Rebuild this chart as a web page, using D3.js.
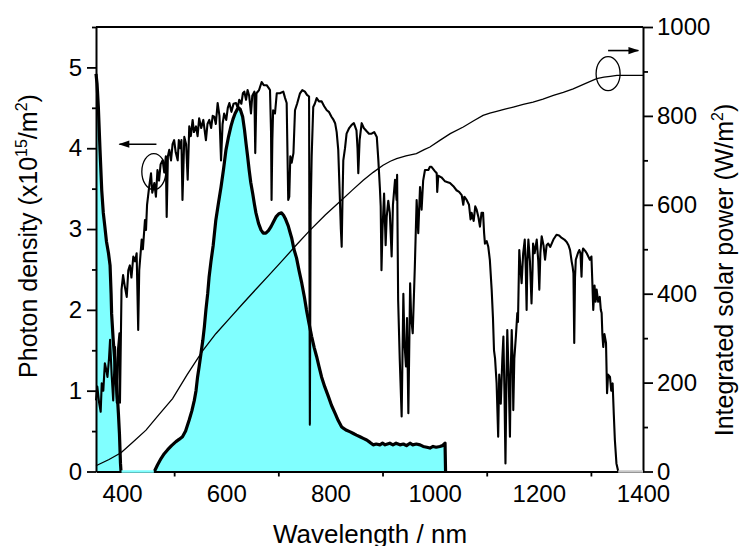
<!DOCTYPE html>
<html>
<head>
<meta charset="utf-8">
<script src="https://cdn.jsdelivr.net/npm/d3@7/dist/d3.min.js"></script>
<style>
  body { margin: 0; background: #fff; }
  svg { font-family: "Liberation Sans", Arial, sans-serif; }
</style>
</head>
<body>
<div id="chart"></div>
<script>
const width = 743;
const height = 546;
const margin = { top: 27, right: 100, bottom: 74.5, left: 96 };

// AM1.5 photon density, [wavelength nm, x10^15 /m^2]
const solarSpectrum = [
  [350, 0.88], [352.5, 1.05], [356, 0.85], [359, 0.74], [361, 1.09], [364, 1.0], [367, 1.34], [370, 1.25],
  [372, 1.17], [375, 1.4], [377, 1.63], [380, 1.2], [383, 0.88], [386.5, 1.54], [388, 1.1], [390, 0.85],
  [392, 1.5], [395, 1.71], [396, 0.85], [399, 2.25], [402, 2.43], [405, 2.3], [409, 2.16], [412, 2.49],
  [415, 2.55], [418, 2.4], [421.6, 2.66], [425, 2.6], [428, 2.7], [431, 1.75], [433, 2.49], [437.7, 2.87],
  [440, 2.75], [444, 3.11], [446, 2.99], [448, 3.3], [452, 3.52], [455.6, 3.69], [458, 3.45], [462, 3.57],
  [465, 3.4], [468, 3.73], [471, 3.6], [474, 3.8], [478, 3.85], [481, 3.7], [484, 3.9], [485.7, 3.15],
  [488, 3.9], [490.7, 3.98], [494, 3.85], [497, 4.05], [500, 4.1], [503, 3.95], [506.8, 3.85], [509, 4.1],
  [512, 4.0], [514, 4.1], [516, 3.36], [519.5, 4.14], [523, 4.05], [526, 3.61], [529, 4.27], [532, 4.15],
  [535.5, 4.35], [538, 4.2], [542, 4.27], [545, 4.15], [548, 4.37], [552, 4.25], [556, 4.35], [559, 4.2],
  [561, 4.1], [564, 4.3], [567.5, 4.35], [571, 4.25], [574, 4.4], [577, 4.39], [580, 4.3], [583.5, 4.56],
  [587, 4.4], [590, 3.85], [593, 4.3], [596, 4.43], [600, 4.35], [603, 4.5], [606, 4.56], [610, 4.45],
  [614, 4.55], [618.7, 4.56], [622, 4.5], [625, 4.6], [629, 4.55], [632, 4.68], [634.7, 4.7], [638, 4.6],
  [641, 4.72], [644, 4.65], [647.5, 4.43], [650, 4.65], [654, 4.7], [655.7, 3.94], [658, 4.68], [663, 4.72],
  [668, 4.82], [672, 4.78], [677.6, 4.78], [682, 4.74], [684, 4.72], [686, 4.2], [687, 3.36], [688.5, 4.1],
  [690, 4.47], [693.6, 4.43], [697, 4.68], [703, 4.68], [709.5, 4.7], [713, 4.62], [716, 4.56], [719, 3.36],
  [721, 3.4], [723, 3.9], [725.6, 3.82], [729, 3.94], [732, 4.47], [736, 4.55], [741.6, 4.68], [746, 4.72],
  [751, 4.7], [755, 4.66], [759, 4.64], [760.5, 0.58], [762, 3.2], [764, 3.9], [767, 4.51], [770, 4.55],
  [773.6, 4.62], [778, 4.58], [783, 4.58], [788, 4.52], [793, 4.47], [797, 4.45], [802, 4.39], [806, 4.35],
  [809, 4.31], [812, 4.2], [815, 3.98], [818, 3.4], [820, 3.0], [821.6, 2.78], [823, 3.3], [824.7, 3.85],
  [828, 4.0], [831, 4.18], [836, 4.25], [840.8, 4.29], [845, 4.31], [850, 4.22], [852, 4.0], [853.5, 3.69],
  [856, 4.1], [860, 4.31], [864, 4.25], [869.6, 4.21], [874, 4.18], [879, 4.18], [884, 4.2], [889, 4.14],
  [892, 3.85], [895, 3.5], [896.5, 3.28], [898, 2.49], [900, 3.0], [903, 3.44], [906, 2.8], [908, 3.15],
  [911, 3.35], [914, 3.2], [917.5, 2.66], [920, 3.3], [924, 3.61], [927, 3.36], [928, 3.67], [930, 2.12],
  [933, 1.4], [936.7, 0.68], [940, 2.2], [942, 1.6], [945, 1.3], [947, 1.9], [949.6, 0.72], [953, 2.33],
  [955, 1.9], [958, 1.71], [962, 2.53], [965.5, 3.36], [968.6, 2.95], [972, 3.52], [975, 3.24], [978, 3.6],
  [981.5, 3.73], [988, 3.73], [991, 3.77], [994, 3.77], [1000, 3.72], [1004, 3.69], [1005, 3.46], [1007, 3.66],
  [1013, 3.64], [1020, 3.59], [1025, 3.58], [1029.5, 3.57], [1036, 3.53], [1042, 3.48], [1047, 3.46], [1052, 3.42],
  [1055, 3.3], [1057, 3.4], [1061.5, 3.36], [1066, 3.3], [1069, 3.12], [1071, 3.2], [1075, 3.1], [1078, 3.28],
  [1080.7, 3.24], [1084, 3.15], [1087, 3.03], [1090, 3.2], [1093, 3.2], [1095, 2.95], [1096.6, 2.82], [1100, 2.85],
  [1103, 2.78], [1106, 2.62], [1109.5, 2.25], [1112, 1.9], [1114, 1.5], [1116, 1.4], [1119, 1.09], [1122, 0.43],
  [1124, 1.2], [1127, 0.84], [1130, 1.4], [1132, 1.67], [1134, 1.0], [1136, 0.1], [1138, 1.2], [1139.5, 1.75],
  [1142, 1.2], [1144.6, 0.43], [1146, 1.2], [1148, 1.75], [1150, 1.3], [1151, 0.76], [1153, 1.4], [1156, 1.67],
  [1158.7, 1.96], [1160, 1.85], [1162.5, 2.74], [1165, 2.5], [1167, 2.33], [1170, 2.7], [1173, 2.87], [1175, 2.5],
  [1176.6, 2.0], [1178, 2.6], [1180, 2.87], [1183, 2.6], [1186, 2.08], [1188, 2.5], [1189, 2.82], [1192, 2.7],
  [1196, 2.87], [1199, 2.6], [1201, 2.25], [1203, 2.7], [1205.5, 2.91], [1209, 2.8], [1212, 2.62], [1215, 2.8],
  [1218, 2.82], [1222, 2.78], [1228, 2.87], [1234, 2.93], [1239, 2.92], [1244, 2.89], [1249, 2.87], [1253.5, 2.84],
  [1257, 2.8], [1260, 2.74], [1263, 2.6], [1265, 2.53], [1266.5, 2.45], [1268, 1.59], [1269.5, 2.4], [1271, 2.62],
  [1275, 2.7], [1277.7, 2.74], [1280, 2.7], [1282, 2.41], [1283.5, 2.7], [1285, 2.76], [1289, 2.73], [1292, 2.7],
  [1295, 2.66], [1298, 2.62], [1301, 2.66], [1303, 2.3], [1304.5, 2.0], [1307, 2.3], [1309, 2.1], [1311, 2.25],
  [1314, 2.1], [1317, 2.16], [1319, 2.0], [1320.6, 1.96], [1322, 1.7], [1323.7, 1.54], [1326, 1.7], [1329, 1.59],
  [1331, 0.97], [1333, 1.2], [1336.6, 1.17], [1339, 1.0], [1341.7, 1.09], [1344, 0.7], [1346, 0.39], [1349, 0.1],
  [1352.5, 0]
];
const solarTail = [[1352.5, 0], [1400, 0]];

// filled (cyan) photon density, two parts
const cyanUV = [
  [350, 4.92], [352, 4.8], [354.5, 4.51], [357.7, 3.98], [361, 3.48], [364, 3.2], [367, 3.03], [370, 2.85],
  [374, 2.7], [377, 2.55], [379, 2.2], [380, 1.95], [383, 1.63], [387, 1.3], [390, 1.05], [393, 0.72],
  [395, 0.47], [397, 0.1], [398, 0]
];
const cyanGap = [[399, 0], [461, 0]];
const cyanVis = [
  [462, 0], [468, 0.08], [474.8, 0.16], [481, 0.22], [487.6, 0.27], [495, 0.32], [503.5, 0.37], [510, 0.4],
  [516, 0.43], [522, 0.5], [529, 0.64], [534, 0.75], [538.7, 0.88], [542, 1.0], [545, 1.17], [548, 1.3],
  [551.5, 1.46], [555, 1.62], [558, 1.79], [561, 2.0], [564.4, 2.2], [567, 2.4], [570.7, 2.6], [575, 2.8],
  [580, 3.11], [585, 3.32], [590, 3.52], [595, 3.75], [599.5, 3.98], [604, 4.13], [609, 4.27], [613, 4.36],
  [617, 4.43], [621, 4.48], [624, 4.5], [627, 4.48], [631.5, 4.39], [635, 4.23], [638, 4.06], [641, 3.9],
  [644, 3.73], [647, 3.58], [650.8, 3.44], [654, 3.31], [657, 3.2], [662, 3.07], [666.7, 2.99], [671, 2.95],
  [676, 2.95], [681, 2.98], [686, 3.03], [690, 3.08], [695.5, 3.15], [701, 3.19], [706, 3.2], [710, 3.17],
  [714, 3.12], [719, 3.04], [722, 2.97], [725.6, 2.89], [730, 2.75], [735, 2.64], [740, 2.48], [745, 2.33],
  [750, 2.16], [754, 2.0], [759, 1.83], [764, 1.67], [769, 1.53], [773.6, 1.42], [778, 1.3], [783, 1.17],
  [789, 1.05], [796, 0.93], [802, 0.82], [809, 0.72], [815, 0.63], [821.6, 0.55], [826, 0.53], [831, 0.51],
  [838, 0.49], [844, 0.47], [850, 0.45], [856.7, 0.43], [863, 0.41], [869.6, 0.39], [876, 0.36], [882, 0.33],
  [888, 0.34], [895, 0.33], [900, 0.35], [905, 0.33], [914, 0.35], [920, 0.33], [926, 0.35], [933.5, 0.33],
  [940, 0.34], [946, 0.32], [952.7, 0.35], [958, 0.33], [965, 0.34], [972, 0.33], [978, 0.31], [985, 0.3],
  [991, 0.29], [997, 0.31], [1003, 0.3], [1010, 0.31], [1015, 0.32], [1020, 0.35], [1021, 0]
];

// integrated solar power, [nm, W/m^2]
const integratedPower = [
  [350, 13], [375, 27], [398, 42], [420, 65], [446, 93], [470, 127], [497, 164], [525, 218], [555, 272],
  [580, 310], [606, 344], [632, 378], [657, 410], [683, 443], [708, 475], [735, 510], [761, 543], [790, 577],
  [821, 610], [842, 633], [863, 655], [882, 673], [901, 689], [915, 698], [927, 704], [945, 710], [965, 715],
  [980, 724], [991, 730], [1010, 745], [1030, 760], [1055, 775], [1075, 789], [1093, 801], [1106, 806],
  [1119, 810], [1135, 815], [1151, 820], [1170, 826], [1189, 831], [1208, 838], [1228, 846], [1247, 853],
  [1266, 861], [1290, 873], [1311, 884], [1325, 887], [1337, 889], [1350, 891], [1400, 891]
];

// ticks
const xTicks = [400, 600, 800, 1000, 1200, 1400];
const xMinor = [500, 700, 900, 1100, 1300];
const yTicks = [0, 1, 2, 3, 4, 5];
const yMinor = [0.5, 1.5, 2.5, 3.5, 4.5, 5.5];
const y2Ticks = [0, 200, 400, 600, 800, 1000];
const y2Minor = [100, 300, 500, 700, 900];

let svg = d3.select("#chart")
  .append("svg")
  .attr("width", width)
  .attr("height", height)
  .attr("viewBox", [0, 0, width, height]);

const x = d3.scaleLinear().domain([350, 1400]).range([margin.left, width - margin.right]);
const y = d3.scaleLinear().domain([0, 5.5]).range([height - margin.bottom, margin.top]);
const y2 = d3.scaleLinear().domain([0, 1000]).range([height - margin.bottom, margin.top]);

const line = d3.line().x(d => x(d[0])).y(d => y(d[1]));
const line2 = d3.line().x(d => x(d[0])).y(d => y2(d[1]));
const area = d3.area().x(d => x(d[0])).y0(y(0)).y1(d => y(d[1]));

// cyan fill
[cyanUV, cyanVis].forEach(seg => {
  svg.append("path").attr("d", area(seg)).attr("fill", "#80ffff").attr("stroke", "none");
});

// thick outline
[cyanUV, cyanVis].forEach(seg => {
  svg.append("path").attr("d", line(seg))
    .attr("fill", "none").attr("stroke", "#000").attr("stroke-width", 3.2)
    .attr("stroke-linejoin", "round");
});

// solar spectrum
svg.append("path").attr("d", line(solarSpectrum))
  .attr("fill", "none").attr("stroke", "#000").attr("stroke-width", 2.1)
  .attr("stroke-linejoin", "round");

// integrated power
svg.append("path").attr("d", line2(integratedPower))
  .attr("fill", "none").attr("stroke", "#000").attr("stroke-width", 1.3);

// axes
const fs = 24;
function styleAxis(g) {
  g.selectAll("path").attr("stroke-width", 2);
  g.selectAll("line").attr("stroke-width", 1.8);
  g.selectAll("text").attr("font-size", fs).attr("font-family", "Liberation Sans, Arial, sans-serif").attr("fill", "#000");
}

svg.append("g")
  .attr("transform", "translate(" + margin.left + ",0)")
  .call(d3.axisLeft(y).tickValues(yTicks).tickSize(9).tickSizeOuter(0).tickPadding(5).tickFormat(d3.format("d")))
  .call(styleAxis);
svg.append("g")
  .attr("transform", "translate(" + margin.left + ",0)")
  .call(d3.axisLeft(y).tickValues(yMinor).tickSize(4).tickFormat(""))
  .call(g => g.select(".domain").remove())
  .call(styleAxis);

svg.append("g")
  .attr("transform", "translate(" + (width - margin.right) + ",0)")
  .call(d3.axisRight(y2).tickValues(y2Ticks).tickSize(10).tickSizeOuter(0).tickPadding(4).tickFormat(d3.format("d")))
  .call(styleAxis);
svg.append("g")
  .attr("transform", "translate(" + (width - margin.right) + ",0)")
  .call(d3.axisRight(y2).tickValues(y2Minor).tickSize(5).tickFormat(""))
  .call(g => g.select(".domain").remove())
  .call(styleAxis);

svg.append("g")
  .attr("transform", "translate(0," + (height - margin.bottom) + ")")
  .call(d3.axisBottom(x).tickValues(xTicks).tickSize(0).tickSizeOuter(0).tickPadding(13).tickFormat(d3.format("d")))
  .call(styleAxis);
svg.append("g")
  .attr("transform", "translate(0," + (height - margin.bottom) + ")")
  .call(d3.axisBottom(x).tickValues(xMinor).tickSize(5).tickFormat(""))
  .call(g => g.select(".domain").remove())
  .call(styleAxis);

// zero-level pieces drawn over the axis line
svg.append("path").attr("d", line(cyanGap))
  .attr("fill", "none").attr("stroke", "#80ffff").attr("stroke-width", 2.5);
svg.append("path").attr("d", line(solarTail))
  .attr("fill", "none").attr("stroke", "#c8c8c8").attr("stroke-width", 2.5);

// top frame
svg.append("line")
  .attr("x1", x(350)).attr("x2", x(1400)).attr("y1", y(5.5)).attr("y2", y(5.5))
  .attr("stroke", "#000").attr("stroke-width", 2);

// annotations: ellipses and arrows
svg.append("defs").append("marker")
  .attr("id", "head").attr("viewBox", "0 0 12 10").attr("refX", 11).attr("refY", 5)
  .attr("markerWidth", 12).attr("markerHeight", 9).attr("markerUnits", "userSpaceOnUse")
  .attr("orient", "auto")
  .append("path").attr("d", "M0,1 L12,5 L0,9 Z").attr("fill", "#000");

svg.append("ellipse").attr("cx", x(461)).attr("cy", y(3.71)).attr("rx", 12).attr("ry", 18)
  .attr("fill", "none").attr("stroke", "#000").attr("stroke-width", 1.3);
svg.append("line").attr("x1", x(466)).attr("x2", x(395)).attr("y1", y(4.05)).attr("y2", y(4.05))
  .attr("stroke", "#000").attr("stroke-width", 1.6).attr("marker-end", "url(#head)");

svg.append("ellipse").attr("cx", x(1333)).attr("cy", y2(895)).attr("rx", 12).attr("ry", 17)
  .attr("fill", "none").attr("stroke", "#000").attr("stroke-width", 1.3);
svg.append("line").attr("x1", x(1333)).attr("x2", x(1391)).attr("y1", y2(947)).attr("y2", y2(947))
  .attr("stroke", "#000").attr("stroke-width", 1.6).attr("marker-end", "url(#head)");

// titles
svg.append("text")
  .attr("x", 370).attr("y", 543)
  .attr("text-anchor", "middle").attr("font-size", 26)
  .text("Wavelength / nm");

let tl = svg.append("text")
  .attr("transform", "translate(37,236) rotate(-90)")
  .attr("text-anchor", "middle").attr("font-size", 25);
tl.append("tspan").text("Photon density (x10");
tl.append("tspan").attr("font-size", 16).attr("dy", -10).text("15");
tl.append("tspan").attr("dy", 10).text("/m");
tl.append("tspan").attr("font-size", 16).attr("dy", -10).text("2");
tl.append("tspan").attr("dy", 10).text(")");

let tr = svg.append("text")
  .attr("transform", "translate(733,270) rotate(-90)")
  .attr("text-anchor", "middle").attr("font-size", 25);
tr.append("tspan").text("Integrated solar power (W/m");
tr.append("tspan").attr("font-size", 16).attr("dy", -10).text("2");
tr.append("tspan").attr("dy", 10).text(")");
</script>
</body>
</html>
